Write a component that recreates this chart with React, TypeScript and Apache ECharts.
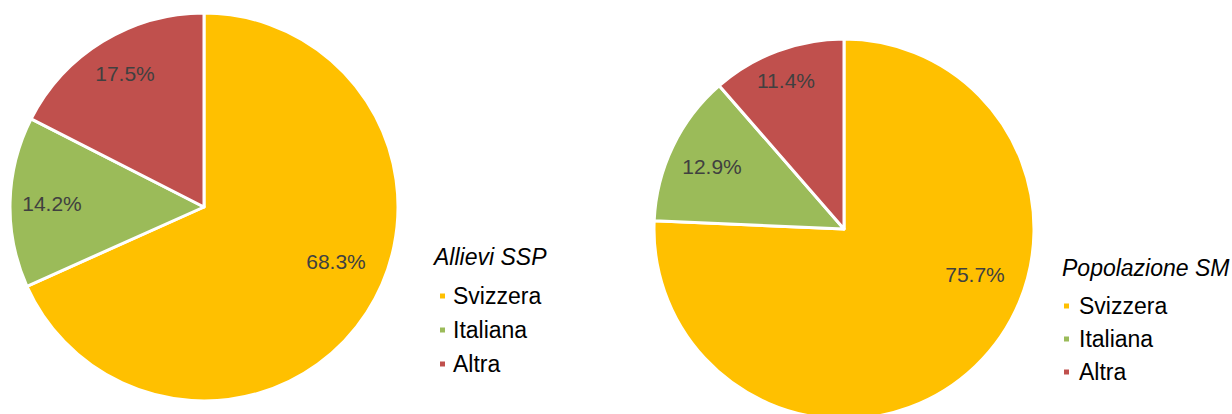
import React, { useEffect, useRef } from "react";
import * as echarts from "echarts";

const categories = ["Svizzera", "Italiana", "Altra"];
const colors = ["#FFC000", "#9BBB59", "#C0504D"];
const allieviSSP = [68.3, 14.2, 17.5];
const popolazioneSM = [75.7, 12.9, 11.4];
const titles = ["Allievi SSP", "Popolazione SM"];

// label anchor positions (px) for each pie, per category
const labelPos = [
  [[336, 261], [52, 203], [125, 73]],
  [[975, 274], [712, 166], [786, 80]],
];

const FONT = "Liberation Sans, Arial, sans-serif";

export default function App() {
  const ref = useRef<HTMLDivElement>(null);
  useEffect(() => {
    if (!ref.current) return;
    const chart = echarts.init(ref.current, undefined, { renderer: "svg" });
    const mkSeries = (vals: number[], center: number[], radius: number) => ({
      type: "pie",
      center,
      radius,
      startAngle: 90,
      clockwise: true,
      silent: true,
      data: categories.map((c, i) => ({ name: c, value: vals[i], itemStyle: { color: colors[i] } })),
      itemStyle: { borderColor: "#fff", borderWidth: 3 },
      label: {
        show: true,
        position: "inside",
        formatter: (p: any) => p.value.toFixed(1) + "%",
        fontFamily: FONT,
        fontSize: 21,
        color: "#404040",
      },
      labelLine: { show: false },
      labelLayout: (p: any) => {
        const pos = labelPos[p.seriesIndex][p.dataIndex];
        return { x: pos[0], y: pos[1], align: "center", verticalAlign: "middle" };
      },
    });
    const legendBase = {
      orient: "vertical",
      icon: "rect",
      itemWidth: 7,
      itemHeight: 7,
      selectedMode: false,
      data: categories,
    };
    const titleStyle = { fontStyle: "italic", fontWeight: "normal", fontSize: 23, lineHeight: 26, color: "#000", fontFamily: FONT };
    chart.setOption({
      animation: false,
      textStyle: { fontFamily: FONT },
      title: [
        { text: titles[0], left: 434, top: 244, padding: 0, textStyle: titleStyle },
        { text: titles[1], left: 1062, top: 255, padding: 0, textStyle: titleStyle },
      ],
      legend: [
        {
          ...legendBase,
          left: 438,
          top: 284,
          padding: 0,
          itemGap: 10,
          textStyle: { fontSize: 23, lineHeight: 24, color: "#000", padding: [0, 0, 0, 2], fontFamily: FONT },
        },
        {
          ...legendBase,
          left: 1062,
          top: 294,
          padding: 0,
          itemGap: 9,
          textStyle: { fontSize: 23, lineHeight: 24, color: "#000", padding: [0, 0, 0, 4], fontFamily: FONT },
        },
      ],
      series: [mkSeries(allieviSSP, [204, 207], 194), mkSeries(popolazioneSM, [844, 229], 190)],
    });
    return () => chart.dispose();
  }, []);
  return <div ref={ref} style={{ position: "absolute", left: 0, top: 0, width: 1232, height: 414 }} />;
}
